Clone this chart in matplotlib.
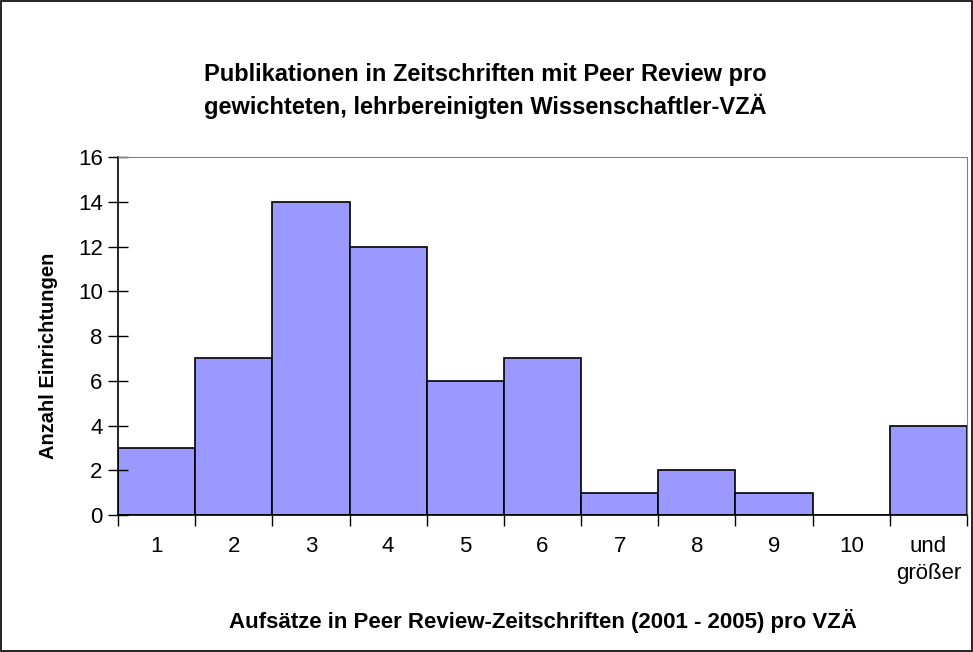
import matplotlib.pyplot as plt
from matplotlib.patches import Rectangle

# Data
categories = ['1', '2', '3', '4', '5', '6', '7', '8', '9', '10', 'und\ngrößer']
counts = [3, 7, 14, 12, 6, 7, 1, 2, 1, 0, 4]

plt.rcParams['font.family'] = ['Liberation Sans', 'DejaVu Sans']

fig = plt.figure(figsize=(9.73, 6.52), dpi=100)
ax = fig.add_axes([0.1213, 0.2101, 0.8725, 0.5491])

x = list(range(len(categories)))
ax.bar(x, counts, width=1.0, color='#9999FF', edgecolor='black', linewidth=1.2)

ax.set_xlim(-0.5, len(categories) - 0.5)
ax.set_ylim(0, 16)
ax.set_yticks(range(0, 17, 2))
ax.tick_params(axis='y', direction='inout', length=14, width=1, labelsize=16, pad=4)

# category labels centred under bars, tick marks between bars
ax.set_xticks(x)
ax.set_xticklabels(categories, fontsize=16, linespacing=1.4, va='top')
ax.tick_params(axis='x', which='major', length=0, pad=15)
ax.set_xticks([i - 0.5 for i in range(len(categories) + 1)], minor=True)
ax.tick_params(axis='x', which='minor', direction='out', length=8, width=1)

for side in ['top', 'right']:
    ax.spines[side].set_color('#808080')
for side in ['left', 'bottom']:
    ax.spines[side].set_linewidth(1.2)

ax.set_ylabel('Anzahl Einrichtungen', fontsize=14.5, fontweight='bold')
ax.yaxis.set_label_coords(-0.071, 0.444)
ax.set_xlabel('Aufsätze in Peer Review-Zeitschriften (2001 - 2005) pro VZÄ',
              fontsize=16, fontweight='bold', labelpad=18)

fig.text(0.499, 0.86, 'Publikationen in Zeitschriften mit Peer Review pro\n'
         'gewichteten, lehrbereinigten Wissenschaftler-VZÄ',
         ha='center', va='center', fontsize=17, fontweight='bold', linespacing=1.4)

# frame around the whole chart
fig.patches.append(Rectangle((0.001, 0.002), 0.998, 0.996, transform=fig.transFigure,
                             fill=False, edgecolor='black', linewidth=1.2))

fig.savefig('out.png', dpi=100)
